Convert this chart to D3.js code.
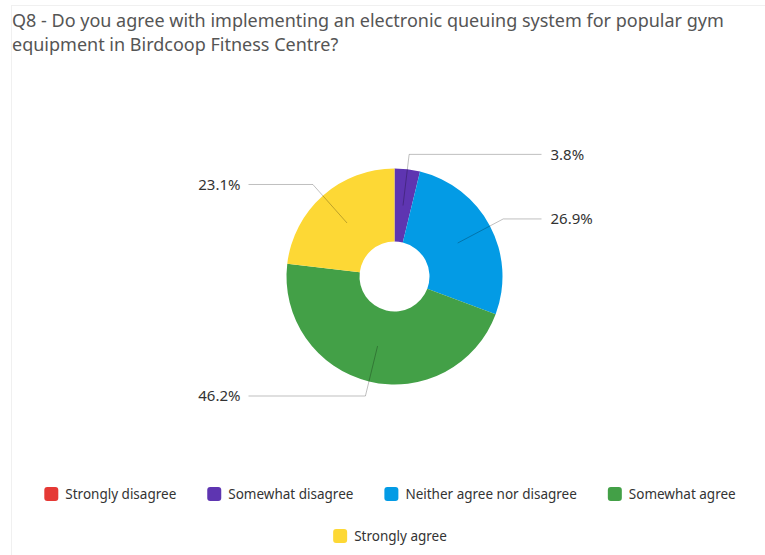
<!DOCTYPE html>
<html>
<head>
<meta charset="utf-8">
<script src="https://cdn.jsdelivr.net/npm/d3@7"></script>
<style>
  body { margin: 0; background: #fff; }
  svg { display: block; }
</style>
</head>
<body>
<div id="chart"></div>
<script>
// data
const categories = ["Strongly disagree", "Somewhat disagree", "Neither agree nor disagree", "Somewhat agree", "Strongly agree"];
const percents = [0, 3.8, 26.9, 46.2, 23.1];
const colors = ["#E53935", "#5E35B1", "#039BE5", "#43A047", "#FDD835"];
const titleLines = [
    "Q8 - Do you agree with implementing an electronic queuing system for popular gym",
    "equipment in Birdcoop Fitness Centre?"
];

const width = 765, height = 555;
const cx = 394.5, cy = 276.5;
const outerR = 108, innerR = 35, elbowR = 123;
const font = "'Noto Sans', sans-serif";

const svg = d3.select("#chart")
    .append("svg")
    .attr("width", width)
    .attr("height", height);

// faint card border
svg.append("rect")
    .attr("x", 11.5).attr("y", 5.5)
    .attr("width", width).attr("height", height)
    .attr("fill", "none")
    .attr("stroke", "#f0f0f0");

// title
svg.append("g").selectAll("text")
    .data(titleLines)
    .join("text")
    .attr("x", 12)
    .attr("y", (d, i) => 27 + i * 24)
    .style("font-family", font)
    .style("font-size", "18px")
    .style("fill", "#555")
    .text(d => d);

const data = categories.map((c, i) => ({ name: c, value: percents[i], color: colors[i] }));

const pie = d3.pie().sort(null).value(d => d.value);
const arcs = pie(data);

const arc = d3.arc().innerRadius(innerR).outerRadius(outerR);
const g = svg.append("g").attr("transform", `translate(${cx},${cy})`);

g.selectAll("path")
    .data(arcs)
    .join("path")
    .attr("d", arc)
    .attr("fill", d => d.data.color);

// leader lines + labels
const labelArcs = arcs.filter(d => d.data.value > 0);
const midArc = d3.arc().innerRadius((innerR + outerR) / 2).outerRadius((innerR + outerR) / 2);

labelArcs.forEach(d => {
    const mid = (d.startAngle + d.endAngle) / 2;
    const right = Math.sin(mid) > 0;
    const [x0, y0] = midArc.centroid(d);
    const x1 = Math.sin(mid) * elbowR, y1 = -Math.cos(mid) * elbowR;
    const x2 = right ? 147 : -146;
    g.append("polyline")
        .attr("points", [[x0, y0], [x1, y1], [x2, y1]].map(p => p.join(",")).join(" "))
        .attr("fill", "none")
        .attr("stroke", "#000")
        .attr("stroke-opacity", 0.25)
        .attr("stroke-width", 1);
    g.append("text")
        .attr("x", right ? x2 + 9 : x2 - 8)
        .attr("y", y1)
        .attr("dy", "0.35em")
        .attr("text-anchor", right ? "start" : "end")
        .style("font-family", font)
        .style("font-size", "15px")
        .style("fill", "#333")
        .text(d.data.value.toFixed(1) + "%");
});

// legend: two rows, centered
const legendRows = [data.slice(0, 4), data.slice(4)];
const legendCenter = 390, swatch = 14, textGap = 21, itemGap = 31;
legendRows.forEach((row, ri) => {
    const y = 494 + ri * 42;
    const lg = svg.append("g");
    const items = lg.selectAll("g")
        .data(row)
        .join("g");
    items.append("rect")
        .attr("width", swatch).attr("height", swatch)
        .attr("y", -swatch / 2)
        .attr("rx", 3)
        .attr("fill", d => d.color);
    items.append("text")
        .attr("x", textGap)
        .attr("dy", "0.35em")
        .style("font-family", font)
        .style("font-size", "13.5px")
        .style("fill", "#333")
        .text(d => d.name);
    const widths = [];
    items.each(function () {
        const w = textGap + d3.select(this).select("text").node().getComputedTextLength();
        widths.push(w);
    });
    const total = d3.sum(widths) + itemGap * (widths.length - 1);
    let start = legendCenter - total / 2;
    items.attr("transform", (d, i) => {
        const t = `translate(${start},${y})`;
        start += widths[i] + itemGap;
        return t;
    });
});
</script>
</body>
</html>
